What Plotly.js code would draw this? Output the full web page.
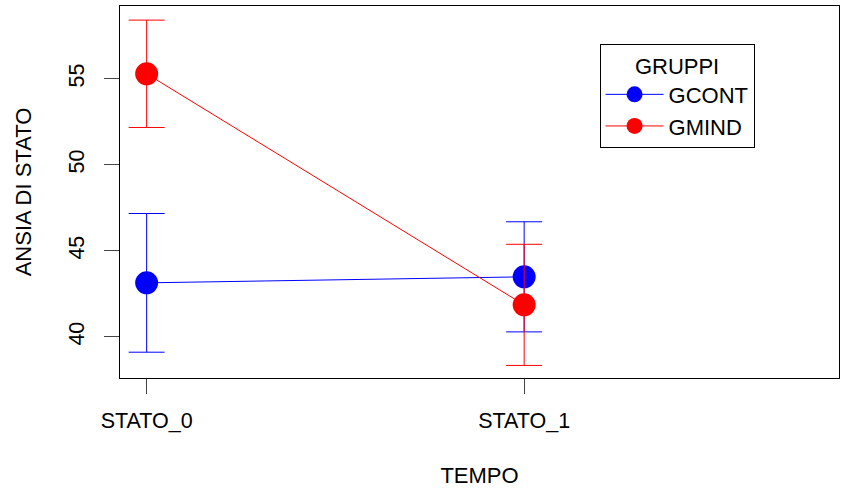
<!DOCTYPE html>
<html>
<head>
<meta charset="utf-8">
<script src="https://cdn.plot.ly/plotly-3.0.1.min.js"></script>
<style>html,body{margin:0;padding:0;background:#fff;}#chart{width:841px;height:488px;}</style>
</head>
<body>
<div id="chart"></div>
<script>
const categories = ['STATO_0', 'STATO_1'];
const gcontMean = [43.14, 43.49];
const gcontErr = [4.03, 3.2];
const gmindMean = [55.29, 41.86];
const gmindErr = [3.12, 3.52];
const yTicks = [40, 45, 50, 55];

const font = 'Liberation Sans, Arial, sans-serif';

function trace(name, y, err, color) {
  return {
    type: 'scatter', mode: 'lines+markers', name: name,
    x: categories, y: y,
    line: {color: color, width: 1},
    marker: {color: color, size: 23},
    error_y: {type: 'data', array: err, visible: true, width: 18, thickness: 1, color: color}
  };
}

const data = [
  trace('GCONT', gcontMean, gcontErr, '#0000FF'),
  trace('GMIND', gmindMean, gmindErr, '#FF0000')
];

const layout = {
  width: 841, height: 488,
  margin: {l: 120, r: 2, t: 6, b: 110},
  paper_bgcolor: '#fff', plot_bgcolor: '#fff',
  font: {family: font, size: 22, color: '#000'},
  showlegend: true,
  legend: {
    x: 0.667, y: 0.898, xanchor: 'left', yanchor: 'top',
    bordercolor: '#000', borderwidth: 1, bgcolor: '#fff',
    font: {family: font, size: 22, color: '#000'},
    title: {text: 'GRUPPI', side: 'top center', font: {family: font, size: 22}},
    itemwidth: 58, tracegroupgap: 0
  },
  xaxis: {
    type: 'category', range: [-0.0706, 1.834],
    showgrid: false, zeroline: false,
    showline: true, mirror: true, linecolor: '#000', linewidth: 1,
    ticks: 'outside', ticklen: 15, tickcolor: '#444', tickwidth: 1,
    tickfont: {family: font, size: 21.5, color: '#000'},
    ticklabelstandoff: 8,
    title: {text: 'TEMPO', font: {family: font, size: 22, color: '#000'}, standoff: 37}
  },
  yaxis: {
    range: [37.61, 59.23],
    tickvals: yTicks, ticktext: yTicks.map(String),
    tickangle: -90,
    showgrid: false, zeroline: false,
    showline: true, mirror: true, linecolor: '#000', linewidth: 1,
    ticks: 'outside', ticklen: 15, tickcolor: '#444', tickwidth: 1,
    tickfont: {family: font, size: 21.5, color: '#000'},
    ticklabelstandoff: 11,
    title: {text: 'ANSIA DI STATO', font: {family: font, size: 22, color: '#000'}, standoff: 27}
  }
};

Plotly.newPlot('chart', data, layout, {displayModeBar: false, staticPlot: true});
</script>
</body>
</html>
